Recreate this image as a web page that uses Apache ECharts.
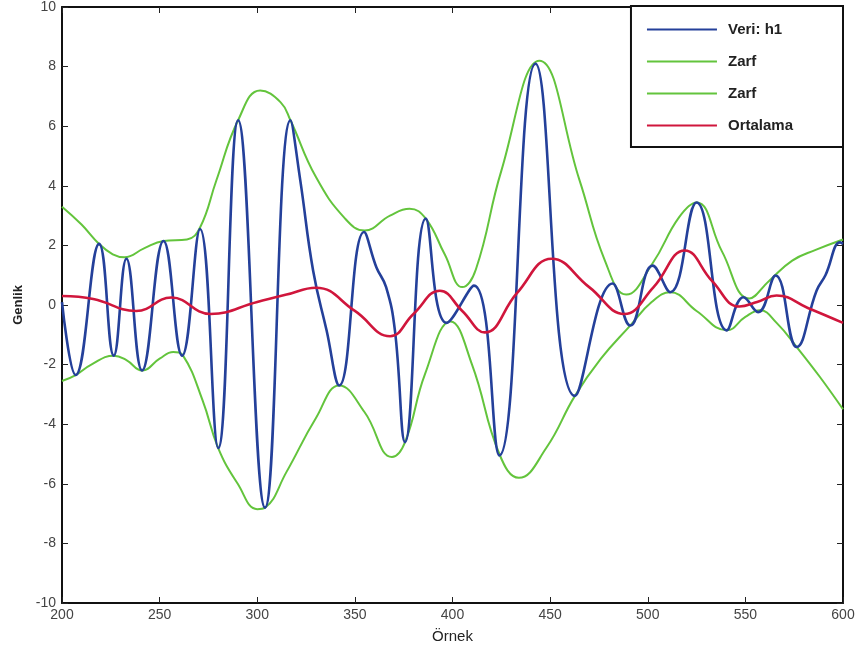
<!DOCTYPE html>
<html>
<head>
<meta charset="utf-8">
<script src="https://cdn.jsdelivr.net/npm/echarts@6/dist/echarts.min.js"></script>
<style>
html,body{margin:0;padding:0;background:#fff;}
#chart{width:862px;height:660px;}
</style>
</head>
<body>
<div id="chart"></div>
<script>
// x ticks and y ticks
const xTicks = [200, 250, 300, 350, 400, 450, 500, 550, 600];
const yTicks = [-10, -8, -6, -4, -2, 0, 2, 4, 6, 8, 10];

// Veri: h1 (sample, amplitude)
const veriH1 = [
  [200, 0.1], [207, -2.35], [219, 2.05], [226.5, -1.7], [233, 1.55], [241, -2.2],
  [252, 2.15], [261.5, -1.7], [270.7, 2.55], [280, -4.8], [290.2, 6.2], [304, -6.8],
  [317, 6.2], [322, 4.2], [328.6, 1.16], [335.5, -0.85], [342, -2.7], [354.7, 2.45],
  [361, 1.27], [366, 0.6], [370.5, -0.85], [375.7, -4.6], [386.3, 2.9], [397, -0.6],
  [411, 0.65], [424, -5.05], [442.5, 8.1], [462.7, -3.05], [482, 0.72], [491, -0.69],
  [502.5, 1.32], [511.5, 0.43], [525, 3.44], [540.5, -0.85], [549, 0.26], [556.5, -0.24],
  [565.5, 0.99], [576.3, -1.41], [586.5, 0.49], [591, 1.0], [598.5, 2.1], [600, 2.05]
];

// Zarf (upper envelope)
const zarfUst = [
  [200, 3.3], [210, 2.7], [219, 2.05], [226, 1.7], [232, 1.6], [242, 1.9], [252, 2.15],
  [264, 2.2], [270.7, 2.6], [279, 4.17], [290.2, 6.2], [301.5, 7.2], [312, 6.8], [317, 6.2],
  [330, 4.3], [345, 2.9], [355, 2.5], [368, 3.0], [378, 3.23], [386.3, 2.9], [396, 1.7],
  [405, 0.6], [412, 1.2], [425, 4.5], [444.5, 8.2], [465, 4.2], [478, 1.5], [489, 0.35],
  [502.5, 1.4], [516, 2.94], [525, 3.44], [538, 1.8], [552, 0.22], [562, 0.8], [574, 1.49],
  [586, 1.85], [600, 2.2]
];

// Zarf (lower envelope)
const zarfAlt = [
  [200, -2.55], [207, -2.35], [215, -2.0], [226.5, -1.7], [233, -1.85], [241, -2.2],
  [250, -1.8], [257, -1.58], [262, -1.7], [272, -3.2], [280, -4.8], [290, -6.0], [300, -6.85],
  [304, -6.8], [315, -5.6], [330, -3.8], [342, -2.7], [355, -3.6], [369, -5.1], [375.7, -4.6],
  [386, -2.3], [399, -0.55], [410, -2.0], [424, -5.0], [434, -5.8], [448, -4.8], [462.7, -3.05],
  [476, -1.8], [491, -0.69], [502, 0.1], [511.5, 0.43], [525, -0.2], [540.5, -0.85], [550, -0.4],
  [557.5, -0.18], [566, -0.6], [576.3, -1.41], [588, -2.4], [600, -3.5]
];

// Ortalama (mean)
const ortalama = [
  [200, 0.3], [216, 0.2], [238, -0.2], [256, 0.25], [276, -0.3], [300, 0.1], [315, 0.35],
  [330, 0.58], [350, -0.2], [368, -1.05], [380, -0.3], [393.5, 0.48], [405, -0.2], [416.5, -0.92],
  [433, 0.4], [450.8, 1.55], [470, 0.6], [488, -0.3], [503, 0.6], [519, 1.83], [533, 0.8],
  [547, -0.05], [556, 0.1], [566, 0.32], [582, -0.1], [600, -0.6]
];

const seriesNames = ['Veri: h1', 'Zarf', 'Zarf', 'Ortalama'];
const BLUE = '#24409a', GREEN = '#63c43c', RED = '#d0163c';

const chart = echarts.init(document.getElementById('chart'));
const font = 'Liberation Sans, Arial, sans-serif';
const axisLine = {show: true, onZero: false, lineStyle: {color: '#111', width: 2}};
const tickIn = {show: true, inside: true, length: 6, lineStyle: {color: '#222', width: 1}};

function mkX(pos, showLabel) {
  return {
    type: 'value', position: pos, min: xTicks[0], max: xTicks[xTicks.length - 1], interval: 50,
    axisLine: axisLine, axisTick: tickIn, splitLine: {show: false},
    axisLabel: {show: showLabel, color: '#444', fontFamily: font, fontSize: 14, margin: 5},
    name: showLabel ? 'Örnek' : '', nameLocation: 'middle', nameGap: 26,
    nameTextStyle: {color: '#222', fontFamily: font, fontSize: 15}
  };
}
function mkY(pos, showLabel) {
  return {
    type: 'value', position: pos, min: yTicks[0], max: yTicks[yTicks.length - 1], interval: 2,
    axisLine: axisLine, axisTick: tickIn, splitLine: {show: false},
    axisLabel: {show: showLabel, color: '#444', fontFamily: font, fontSize: 14, margin: 6},
    name: showLabel ? 'Genlik' : '', nameLocation: 'middle', nameGap: 36,
    nameTextStyle: {color: '#222', fontFamily: font, fontSize: 13, fontWeight: 'bold'}
  };
}

function line(name, data, color, width, z) {
  return {
    type: 'line', name: name, data: data, smooth: 0.45, symbol: 'none',
    lineStyle: {color: color, width: width}, itemStyle: {color: color}, z: z,
    xAxisIndex: 0, yAxisIndex: 0, animation: false
  };
}

const legendIcon = 'path://M0,0 L70,0 L70,2 L0,2 Z';

chart.setOption({
  backgroundColor: '#fff',
  animation: false,
  grid: {left: 62, right: 19, top: 6, bottom: 57, containLabel: false},
  xAxis: [mkX('bottom', true), mkX('top', false)],
  yAxis: [mkY('left', true), mkY('right', false)],
  legend: {
    orient: 'vertical', right: 19, top: 6,
    backgroundColor: '#fff', borderColor: '#111', borderWidth: 2,
    padding: [16, 50, 14, 16], itemWidth: 70, itemHeight: 14, itemGap: 17,
    textStyle: {color: '#222', fontFamily: font, fontSize: 15, fontWeight: 'bold', padding: [0, 0, 0, 6]},
    data: [
      {name: 'Veri: h1', icon: legendIcon, itemStyle: {color: BLUE}},
      {name: 'Zarf', icon: legendIcon, itemStyle: {color: GREEN}},
      {name: 'Zarf ', icon: legendIcon, itemStyle: {color: GREEN}},
      {name: 'Ortalama', icon: legendIcon, itemStyle: {color: RED}}
    ]
  },
  series: [
    line(seriesNames[0], veriH1, BLUE, 2.6, 4),
    line(seriesNames[1], zarfUst, GREEN, 2, 3),
    line(seriesNames[2] + ' ', zarfAlt, GREEN, 2, 3),
    line(seriesNames[3], ortalama, RED, 2.6, 5)
  ]
});
</script>
</body>
</html>
